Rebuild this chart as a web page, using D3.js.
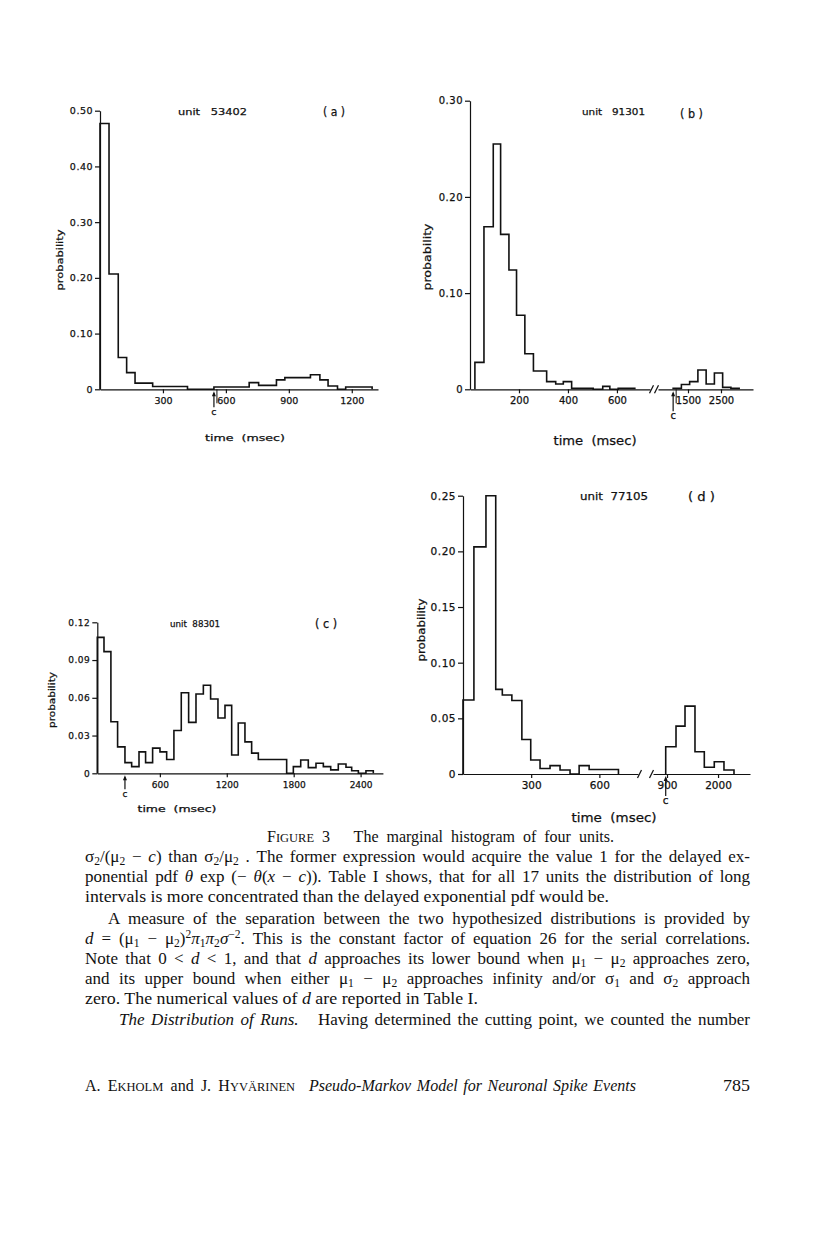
<!DOCTYPE html>
<html>
<head>
<meta charset="utf-8">
<script src="https://cdn.jsdelivr.net/npm/d3@7"></script>
<style>
  body { margin: 0; background: #fff; }
  svg { display: block; }
  text { white-space: pre; fill: #111; }
  .ax path, .ax line { stroke: #111; stroke-width: 1.2; }
  .ax text, .lbl { stroke: #111; stroke-width: 0.25; }
  .hist { fill: none; stroke: #111; stroke-width: 1.6; stroke-linejoin: miter; }
</style>
</head>
<body>
<svg id="page" width="816" height="1234"></svg>
<script>
// ---- data (bin edges in msec, probability per bin) ----
const edgesA = [0, 43, 87, 127, 167, 251, 417, 543, 711, 756, 841, 881, 1003, 1048, 1087, 1132, 1171, 1297];
const probA  = [0.477, 0.207, 0.057, 0.030, 0.011, 0.005, 0, 0.004, 0.012, 0.007, 0.017, 0.021, 0.026, 0.017, 0.006, 0, 0.004];
const yTicksA = [0, 0.1, 0.2, 0.3, 0.4, 0.5];
const xTicksA = [300, 600, 900, 1200];
const cutA = 543;

const edgesB  = [20, 57, 95, 125, 159, 190, 224, 259, 286, 313, 350, 381, 415, 503, 542, 571, 605, 673];
const probB   = [0.028, 0.169, 0.255, 0.161, 0.124, 0.077, 0.037, 0.019, 0.019, 0.008, 0.0055, 0.008, 0.001, 0, 0.003, 0, 0.001];
const edgesB2 = [1050, 1300, 1550, 1800, 2050, 2300, 2550, 2800, 3050];
const probB2  = [0.001, 0.005, 0.008, 0.020, 0.0055, 0.017, 0.002, 0.001];
const yTicksB = [0, 0.1, 0.2, 0.3];
const xTicksB = [200, 400, 600];
const xTicksB2 = [1500, 2500];
const cutB = 1050;

const edgesC = [39, 99, 161, 221, 287, 347, 413, 472, 535, 601, 661, 726, 792, 858, 924, 990, 1055, 1121, 1184,
                1244, 1303, 1363, 1423, 1483, 1737, 1797, 1863, 1931, 2000, 2066, 2132, 2200, 2269, 2320, 2380, 2448, 2514];
const probC  = [0.108, 0.0967, 0.041, 0.021, 0.0085, 0.0053, 0.017, 0.0085, 0.020, 0.017, 0.011, 0.034, 0.064, 0.0405,
                0.063, 0.070, 0.059, 0.044, 0.054, 0.0146, 0.040, 0.025, 0.016, 0.011, 0, 0.0053, 0.0106, 0.0045,
                0.008, 0.0053, 0.0027, 0.0074, 0.0048, 0.002, 0, 0.002];
const yTicksC = [0, 0.03, 0.06, 0.09, 0.12];
const xTicksC = [600, 1200, 1800, 2400];
const cutC = 287;

const edgesD  = [0, 48, 101, 144, 173, 215, 259, 298, 339, 383, 427, 471, 511, 555, 684];
const probD   = [0.0665, 0.204, 0.25, 0.076, 0.071, 0.066, 0.031, 0.0126, 0.005, 0.0075, 0.0036, 0, 0.0075, 0.004];
const edgesD2 = [872, 1094, 1288, 1503, 1704, 1919, 2128, 2344];
const probD2  = [0.0245, 0.043, 0.061, 0.020, 0.006, 0.011, 0.0036];
const yTicksD = [0, 0.05, 0.1, 0.15, 0.2, 0.25];
const xTicksD = [300, 600];
const xTicksD2 = [900, 2000];
const cutD = 872;

const svg = d3.select("#page");
svg.append("rect").attr("width", 816).attr("height", 1234).attr("fill", "#fff");

const SANS = "'DejaVu Sans', Verdana, sans-serif";
const SERIF = "'Liberation Serif', 'Times New Roman', serif";

function stepPath(edges, vals, x, y) {
  let p = `M${x(edges[0])} ${y(0)}`;
  for (let i = 0; i < vals.length; i++) {
    p += ` L${x(edges[i])} ${y(vals[i])} L${x(edges[i + 1])} ${y(vals[i])}`;
  }
  p += ` L${x(edges[edges.length - 1])} ${y(0)}`;
  return p;
}

function label(g, txt, x, y, size, len, opts = {}) {
  const t = g.append("text").attr("class", "lbl").attr("x", x).attr("y", y)
    .style("font-family", SANS).style("font-size", size + "px")
    .attr("text-anchor", opts.anchor || "start").text(txt);
  if (len) t.attr("textLength", len).attr("lengthAdjust", "spacingAndGlyphs");
  if (opts.rotate) t.attr("transform", `rotate(-90 ${x} ${y})`);
  return t;
}

function panel(cfg) {
  const g = svg.append("g");
  const y = d3.scaleLinear().domain([0, cfg.yMax]).range([cfg.y0, cfg.yTop]);
  const fmt = d => d === 0 ? "0" : d3.format(".2f")(d);

  const ya = g.append("g").attr("class", "ax")
    .attr("transform", `translate(${cfg.segs[0].x.range()[0]},0)`)
    .call(d3.axisLeft(y).tickValues(cfg.yTicks).tickSize(5).tickSizeOuter(0).tickPadding(2).tickFormat(fmt));
  ya.selectAll("text").style("font-family", SANS).style("font-size", cfg.tickFont + "px")
    .style("letter-spacing", "0.5px").attr("fill", "#111");

  cfg.segs.forEach(s => {
    const xa = g.append("g").attr("class", "ax")
      .attr("transform", `translate(0,${cfg.y0})`)
      .call(d3.axisBottom(s.x).tickValues(s.ticks).tickSize(4).tickSizeOuter(0).tickPadding(4).tickFormat(d3.format("d")));
    xa.selectAll("text").style("font-family", SANS).style("font-size", cfg.tickFont + "px").attr("fill", "#111");
    g.append("path").attr("class", "hist").attr("d", stepPath(s.edges, s.vals, s.x, y));
  });

  // axis break marks
  if (cfg.segs.length > 1) {
    const a = cfg.segs[0].x.range()[1], b = cfg.segs[1].x.range()[0];
    [a + 1.5, b - 1.5].forEach(px => {
      g.append("line").attr("x1", px - 2).attr("y1", cfg.y0 + 4).attr("x2", px + 2).attr("y2", cfg.y0 - 4)
        .attr("stroke", "#111").attr("stroke-width", 1.2);
    });
  }

  // cutting point arrow "c"
  const cx = cfg.segs[cfg.cut.seg].x(cfg.cut.value);
  const top = cfg.y0 + 2;
  g.append("line").attr("x1", cx).attr("x2", cx).attr("y1", top + 2).attr("y2", top + cfg.cut.len)
    .attr("stroke", "#111").attr("stroke-width", 1.2);
  g.append("path").attr("d", `M${cx} ${top} L${cx - 2} ${top + 5} L${cx + 2} ${top + 5} Z`).attr("fill", "#111");
  if (cfg.cut.bar) {
    g.append("line").attr("x1", cx + cfg.cut.bar).attr("x2", cx + cfg.cut.bar)
      .attr("y1", cfg.y0).attr("y2", cfg.y0 + 14).attr("stroke", "#111").attr("stroke-width", 1);
  }
  label(g, "c", cx, top + cfg.cut.len + 8, cfg.tickFont, null, { anchor: "middle" });

  // titles
  label(g, cfg.unit, cfg.unitPos[0], cfg.unitPos[1], cfg.unitPos[2], cfg.unitPos[3]);
  label(g, cfg.tag, cfg.tagPos[0], cfg.tagPos[1], cfg.tagPos[2], cfg.tagPos[3]);
  label(g, "probability", cfg.probPos[0], cfg.probPos[1], cfg.probPos[2], cfg.probPos[3], { anchor: "middle", rotate: true });
  label(g, "time  (msec)", cfg.timePos[0], cfg.timePos[1], cfg.timePos[2], cfg.timePos[3], { anchor: "middle" });
}

panel({
  yMax: 0.5, y0: 389.3, yTop: 110.7, yTicks: yTicksA, tickFont: 9.5,
  segs: [{ x: d3.scaleLinear().domain([0, 1325]).range([100, 378]), edges: edgesA, vals: probA, ticks: xTicksA }],
  cut: { seg: 0, value: cutA, len: 16, bar: 3 },
  unit: "unit   53402", unitPos: [178, 115, 9.5, 69],
  tag: "( a )", tagPos: [323, 116, 12.5, 22],
  probPos: [63, 260, 9.5, 61], timePos: [245, 441, 9, 80]
});

panel({
  yMax: 0.3, y0: 389.3, yTop: 100.7, yTicks: yTicksB, tickFont: 10,
  segs: [
    { x: d3.scaleLinear().domain([0, 735]).range([470, 650]), edges: edgesB, vals: probB, ticks: xTicksB },
    { x: d3.scaleLinear().domain([591, 3470]).range([658, 753]), edges: edgesB2, vals: probB2, ticks: xTicksB2 }
  ],
  cut: { seg: 1, value: cutB, len: 20, bar: 3 },
  unit: "unit   91301", unitPos: [582, 115, 9.5, 63],
  tag: "( b )", tagPos: [680, 118, 12.5, 23],
  probPos: [431, 257, 11, 67], timePos: [595, 445, 12, 83]
});

panel({
  yMax: 0.12, y0: 773.3, yTop: 622.3, yTicks: yTicksC, tickFont: 9,
  segs: [{ x: d3.scaleLinear().domain([39, 2600]).range([97.3, 382.9]), edges: edgesC, vals: probC, ticks: xTicksC }],
  cut: { seg: 0, value: cutC, len: 14 },
  unit: "unit  88301", unitPos: [170, 627, 8.5, 50],
  tag: "( c )", tagPos: [315, 628, 12, 22],
  probPos: [55, 700, 9, 56], timePos: [177, 812, 8.5, 79]
});

panel({
  yMax: 0.25, y0: 774, yTop: 495.7, yTicks: yTicksD, tickFont: 10.5,
  segs: [
    { x: d3.scaleLinear().domain([0, 770]).range([463, 638]), edges: edgesD, vals: probD, ticks: xTicksD },
    { x: d3.scaleLinear().domain([598, 2689]).range([653, 750]), edges: edgesD2, vals: probD2, ticks: xTicksD2 }
  ],
  cut: { seg: 1, value: cutD, len: 20 },
  unit: "unit  77105", unitPos: [580, 500, 10.5, 68],
  tag: "( d )", tagPos: [688, 501, 13, 27],
  probPos: [425, 630, 11, 63], timePos: [614, 822, 12, 85]
});

// ---- caption, body text, footer ----
// justify: widen word spaces up to the target width, or squeeze glyphs if too long
function serifLine(segs, x, y, size, len, justify) {
  const t = svg.append("text").attr("x", x).attr("y", y)
    .style("font-family", SERIF).style("font-size", size + "px");
  let shift = 0;
  segs.forEach(([s, st]) => {
    const sp = t.append("tspan").text(s);
    let target = 0;
    if (st === "sub") { target = 3; sp.style("font-size", (size * 0.68) + "px"); }
    else if (st === "sup") { target = -6; sp.style("font-size", (size * 0.68) + "px"); }
    else if (st === "sc") { sp.style("font-size", (size * 0.78) + "px"); }
    if (st === "i") sp.style("font-style", "italic");
    if (target !== shift) { sp.attr("dy", target - shift); shift = target; }
  });
  if (len) {
    const natural = t.node().getComputedTextLength();
    const spaces = segs.map(d => d[0]).join("").split(" ").length - 1;
    if (justify && natural < len && spaces > 0) {
      t.style("word-spacing", ((len - natural) / spaces) + "px");
    } else {
      t.attr("textLength", len).attr("lengthAdjust", "spacingAndGlyphs");
    }
  }
  return t;
}

serifLine([["F", "n"], ["IGURE", "sc"], [" 3   The marginal histogram of four units.", "n"]], 267, 842, 16, 347, true);

const bodyLines = [
  { x: 85, len: 665, j: true, segs: [["σ", "n"], ["2", "sub"], ["/(μ", "n"], ["2", "sub"], [" − ", "n"], ["c", "i"], [") than σ", "n"], ["2", "sub"], ["/μ", "n"], ["2", "sub"], [" . The former expression would acquire the value 1 for the delayed ex-", "n"]] },
  { x: 85, len: 665, j: true, segs: [["ponential pdf ", "n"], ["θ", "i"], [" exp (− ", "n"], ["θ", "i"], ["(", "n"], ["x", "i"], [" − ", "n"], ["c", "i"], [")). Table I shows, that for all 17 units the distribution of long", "n"]] },
  { x: 85, len: 524, j: false, segs: [["intervals is more concentrated than the delayed exponential pdf would be.", "n"]] },
  { x: 108, len: 642, j: true, segs: [["A measure of the separation between the two hypothesized distributions is provided by", "n"]] },
  { x: 85, len: 665, j: true, segs: [["d", "i"], [" = (μ", "n"], ["1", "sub"], [" − μ", "n"], ["2", "sub"], [")", "n"], ["2", "sup"], ["π", "i"], ["1", "sub"], ["π", "i"], ["2", "sub"], ["σ", "i"], ["−2", "sup"], [". This is the constant factor of equation 26 for the serial correlations.", "n"]] },
  { x: 85, len: 665, j: true, segs: [["Note that 0 < ", "n"], ["d", "i"], [" < 1, and that ", "n"], ["d", "i"], [" approaches its lower bound when μ", "n"], ["1", "sub"], [" − μ", "n"], ["2", "sub"], [" approaches zero,", "n"]] },
  { x: 85, len: 665, j: true, segs: [["and its upper bound when either μ", "n"], ["1", "sub"], [" − μ", "n"], ["2", "sub"], [" approaches infinity and/or σ", "n"], ["1", "sub"], [" and σ", "n"], ["2", "sub"], [" approach", "n"]] },
  { x: 85, len: 393, j: false, segs: [["zero. The numerical values of ", "n"], ["d", "i"], [" are reported in Table I.", "n"]] },
  { x: 119, len: 631, j: true, segs: [["The Distribution of Runs.", "i"], ["   Having determined the cutting point, we counted the number", "n"]] }
];
const bodyY = [862, 882, 902, 924, 944, 964, 984, 1004, 1025];
bodyLines.forEach((l, i) => serifLine(l.segs, l.x, bodyY[i], 17, l.len, l.j));

serifLine([["A. E", "n"], ["KHOLM", "sc"], [" and J. H", "n"], ["YVÄRINEN", "sc"]], 85, 1091, 16, 210, true);
serifLine([["Pseudo-Markov Model for Neuronal Spike Events", "i"]], 309, 1091, 16, 327, true);
serifLine([["785", "n"]], 723, 1091, 16, 27, false);
</script>
</body>
</html>
